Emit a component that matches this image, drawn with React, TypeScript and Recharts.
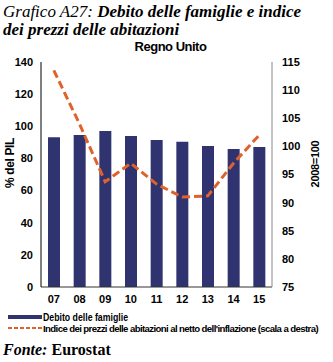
import React from "react";
import {
  ComposedChart,
  Bar,
  Line,
  XAxis,
  YAxis,
  Label,
} from "recharts";

const years = ["07", "08", "09", "10", "11", "12", "13", "14", "15"];
const householdDebt = [93.2, 94.6, 97.1, 94.0, 91.5, 90.4, 87.7, 85.9, 87.1];
const housePriceIndex = [113.5, 104.0, 93.7, 97.0, 93.3, 91.0, 91.2, 97.0, 102.0];
const leftTicks = [0, 20, 40, 60, 80, 100, 120, 140];
const rightTicks = [75, 80, 85, 90, 95, 100, 105, 110, 115];

const BAR_COLOR = "#2F3370";
const LINE_COLOR = "#E0622A";
const SANS = "'Liberation Sans', Arial, sans-serif";
const SERIF = "'Liberation Serif', 'Times New Roman', serif";

const data = years.map((y, i) => ({
  year: y,
  debt: householdDebt[i],
  price: housePriceIndex[i],
}));

const tickStyle = { fontFamily: SANS, fontSize: 11, fontWeight: 700, fill: "#000" };

const App: React.FC = () => {
  return (
    <div
      style={{
        position: "absolute",
        left: 0,
        top: 0,
        width: 333,
        height: 362,
        background: "#fff",
        overflow: "hidden",
      }}
    >
      <div
        style={{
          position: "absolute",
          left: 3,
          top: 3,
          width: 330,
          fontFamily: SERIF,
          fontSize: 17,
          lineHeight: "18px",
          fontStyle: "italic",
          color: "#000",
          whiteSpace: "nowrap",
        }}
      >
        Grafico A27: <b>Debito delle famiglie e indice</b>
        <br />
        <b>dei prezzi delle abitazioni</b>
      </div>
      <div
        style={{
          position: "absolute",
          left: 0,
          top: 39,
          width: 333,
          textAlign: "center",
          fontFamily: SANS,
          fontSize: 13,
          fontWeight: 700,
          letterSpacing: -0.5,
          paddingLeft: 8,
          boxSizing: "border-box",
        }}
      >
        Regno Unito
      </div>
      <div style={{ position: "absolute", left: 0, top: 0 }}>
        <ComposedChart
          width={333}
          height={362}
          data={data}
          margin={{ top: 62, right: 0, bottom: 50, left: 0 }}
        >
          <XAxis
            dataKey="year"
            tickLine={false}
            axisLine={{ stroke: "#333", strokeWidth: 1 }}
            tick={tickStyle}
            height={25}
            interval={0}
          />
          <YAxis
            yAxisId="left"
            domain={[0, 140]}
            ticks={leftTicks}
            tickLine={false}
            axisLine={{ stroke: "#000", strokeWidth: 1 }}
            tick={tickStyle}
            width={41}
            interval={0}
          >
            <Label
              content={() => (
                <text
                  x={10}
                  y={163}
                  transform="rotate(-90 10 163)"
                  textAnchor="middle"
                  dominantBaseline="central"
                  style={{ fontFamily: SANS, fontSize: 12, fontWeight: 700 }}
                  letterSpacing={-0.4}
                >
                  % del PIL
                </text>
              )}
            />
          </YAxis>
          <YAxis
            yAxisId="right"
            orientation="right"
            domain={[75, 115]}
            ticks={rightTicks}
            tickLine={false}
            axisLine={{ stroke: "#888", strokeWidth: 1 }}
            tick={tickStyle}
            tickMargin={4}
            width={61}
            interval={0}
          >
            <Label
              content={() => (
                <text
                  x={315}
                  y={164}
                  transform="rotate(-90 315 164)"
                  textAnchor="middle"
                  dominantBaseline="central"
                  style={{ fontFamily: SANS, fontSize: 11, fontWeight: 700 }}
                  letterSpacing={-0.3}
                >
                  2008=100
                </text>
              )}
            />
          </YAxis>
          <Bar
            yAxisId="left"
            dataKey="debt"
            fill={BAR_COLOR}
            barSize={12}
            isAnimationActive={false}
          />
          <Line
            yAxisId="right"
            dataKey="price"
            stroke={LINE_COLOR}
            strokeWidth={3}
            strokeDasharray="8 4"
            dot={false}
            type="linear"
            isAnimationActive={false}
          />
        </ComposedChart>
      </div>
      <svg
        style={{ position: "absolute", left: 0, top: 305 }}
        width={333}
        height={34}
      >
        <rect x={8} y={10} width={34} height={4} fill={BAR_COLOR} />
        <text
          x={43}
          y={15.5}
          textLength={85}
          lengthAdjust="spacingAndGlyphs"
          style={{ fontFamily: SANS, fontSize: 10, fontWeight: 700 }}
        >
          Debito delle famiglie
        </text>
        <line
          x1={8}
          y1={23}
          x2={42}
          y2={23}
          stroke={LINE_COLOR}
          strokeWidth={2}
          strokeDasharray="4 2"
        />
        <text
          x={43}
          y={26.5}
          textLength={275}
          lengthAdjust="spacingAndGlyphs"
          style={{ fontFamily: SANS, fontSize: 9.5, fontWeight: 700 }}
          letterSpacing={-0.6}
        >
          Indice dei prezzi delle abitazioni al netto dell'inflazione (scala a destra)
        </text>
      </svg>
      <div
        style={{
          position: "absolute",
          left: 3,
          top: 341,
          fontFamily: SERIF,
          fontSize: 16,
          fontWeight: 700,
          color: "#000",
        }}
      >
        <i>Fonte:</i> Eurostat
      </div>
    </div>
  );
};

export default App;
